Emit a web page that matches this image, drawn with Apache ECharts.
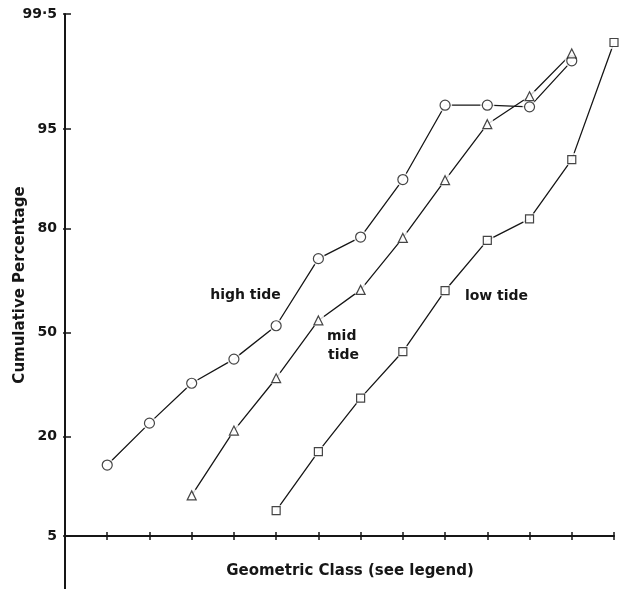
<!DOCTYPE html>
<html>
<head>
<meta charset="utf-8">
<script src="https://cdn.jsdelivr.net/npm/echarts@6/dist/echarts.min.js"></script>
<style>html,body{margin:0;padding:0;background:#fff}#c{width:621px;height:589px}</style>
</head>
<body>
<div id="c"></div>
<script>
// ---- data (cumulative percentages) ----
const highTideClass = [1, 2, 3, 4, 5, 6, 7, 8, 9, 10, 11, 12];
const highTide      = [14.2, 23.2, 34.1, 41.5, 52.2, 72.5, 78.0, 89.2, 96.7, 96.7, 96.6, 98.6];
const midTideClass  = [3, 4, 5, 6, 7, 8, 9, 10, 11, 12];
const midTide       = [9.4, 21.4, 35.6, 53.9, 63.5, 77.8, 89.1, 95.4, 97.2, 98.8];
const lowTideClass  = [5, 6, 7, 8, 9, 10, 11, 12, 13];
const lowTide       = [7.5, 16.8, 29.8, 43.9, 63.3, 77.2, 82.1, 91.9, 99.05];
const yTickPercents = [5, 20, 50, 80, 95, 99.5];
const yTickLabels   = ['5', '20', '50', '80', '95', '99·5'];
const xClassMax = 13;

// inverse normal CDF (probability scale)
function probit(p){
  const a=[-3.969683028665376e+01,2.209460984245205e+02,-2.759285104469687e+02,1.383577518672690e+02,-3.066479806614716e+01,2.506628277459239e+00];
  const b=[-5.447609879822406e+01,1.615858368580409e+02,-1.556989798598866e+02,6.680131188771972e+01,-1.328068155288572e+01];
  const c=[-7.784894002430293e-03,-3.223964580411365e-01,-2.400758277161838e+00,-2.549732539343734e+00,4.374664141464968e+00,2.938163982698783e+00];
  const d=[7.784695709041462e-03,3.224671290700398e-01,2.445134137142996e+00,3.754408661907416e+00];
  const pl=0.02425, ph=1-pl; let q,r;
  if(p<pl){q=Math.sqrt(-2*Math.log(p));return (((((c[0]*q+c[1])*q+c[2])*q+c[3])*q+c[4])*q+c[5])/((((d[0]*q+d[1])*q+d[2])*q+d[3])*q+1);}
  if(p<=ph){q=p-0.5;r=q*q;return (((((a[0]*r+a[1])*r+a[2])*r+a[3])*r+a[4])*r+a[5])*q/(((((b[0]*r+b[1])*r+b[2])*r+b[3])*r+b[4])*r+1);}
  q=Math.sqrt(-2*Math.log(1-p));return -(((((c[0]*q+c[1])*q+c[2])*q+c[3])*q+c[4])*q+c[5])/((((d[0]*q+d[1])*q+d[2])*q+d[3])*q+1);
}
const base = probit(yTickPercents[0] / 100);
const toY = pct => probit(pct / 100) - base;
const yTickVals = yTickPercents.map(toY);
const pairs = (xs, ys) => xs.map((x, i) => [x, toY(ys[i])]);

const highData = pairs(highTideClass, highTide);
const midData  = pairs(midTideClass, midTide);
const lowData  = pairs(lowTideClass, lowTide);

const INK = '#161616';
const FONT = 'DejaVu Sans';

function lineSeries(data){
  return { type: 'line', data, symbol: 'none', z: 2, silent: true,
    lineStyle: { color: INK, width: 1.3 } };
}
function haloSeries(data){
  return { type: 'scatter', data, symbol: 'circle', symbolSize: 14, z: 3, silent: true,
    itemStyle: { color: '#fff', borderWidth: 0 } };
}
function markSeries(data, symbol, size){
  return { type: 'scatter', data, symbol, symbolSize: size, z: 4, silent: true,
    itemStyle: { color: '#fff', borderColor: INK, borderWidth: 1.2 } };
}

const chart = echarts.init(document.getElementById('c'), null, { renderer: 'canvas' });
chart.setOption({
  animation: false,
  backgroundColor: '#fff',
  grid: { left: 65, right: 7, top: 14, bottom: 0, containLabel: false },
  xAxis: [
    { type: 'value', min: 0, max: xClassMax, interval: 1, position: 'bottom',
      axisLine: { onZero: true, lineStyle: { color: INK, width: 2 } },
      axisTick: { show: true, inside: false, length: 4, lineStyle: { color: INK, width: 1.5 } },
      axisLabel: { show: false }, splitLine: { show: false } },
    { type: 'value', min: 0, max: xClassMax, interval: 1, position: 'bottom',
      axisLine: { show: false, onZero: true },
      axisTick: { show: true, inside: true, length: 4, lineStyle: { color: INK, width: 1.5 } },
      axisLabel: { show: false }, splitLine: { show: false } }
  ],
  yAxis: [
    { type: 'value', min: -0.4286, max: yTickVals[yTickVals.length - 1],
      axisLine: { show: true, onZero: true, lineStyle: { color: INK, width: 2 } },
      axisTick: { show: true, inside: true, length: 6, customValues: yTickVals,
        lineStyle: { color: INK, width: 1.5 } },
      axisLabel: { show: true, customValues: yTickVals, margin: 8,
        color: INK, fontFamily: FONT, fontWeight: 'bold', fontSize: 14,
        formatter: v => { const i = yTickVals.findIndex(t => Math.abs(t - v) < 1e-6); return i >= 0 ? yTickLabels[i] : ''; } },
      splitLine: { show: false } },
    { type: 'value', min: -0.4286, max: yTickVals[yTickVals.length - 1], position: 'left', offset: 0,
      axisLine: { show: false },
      axisTick: { show: true, inside: false, length: 2, customValues: yTickVals,
        lineStyle: { color: INK, width: 1.5 } },
      axisLabel: { show: false }, splitLine: { show: false } }
  ],
  series: [
    lineSeries(highData), lineSeries(midData), lineSeries(lowData),
    haloSeries(highData), haloSeries(midData), haloSeries(lowData),
    markSeries(highData, 'circle', 10),
    markSeries(midData, 'triangle', 9),
    markSeries(lowData, 'rect', 8)
  ],
  graphic: [
    { type: 'text', x: 350, y: 571, style: { text: 'Geometric Class (see legend)', font: 'bold 15px "DejaVu Sans"', fill: INK, align: 'center', verticalAlign: 'middle' } },
    { type: 'text', x: 20, y: 285, rotation: Math.PI / 2, style: { text: 'Cumulative Percentage', font: 'bold 15px "DejaVu Sans"', fill: INK, align: 'center', verticalAlign: 'middle' } },
    { type: 'text', x: 245.5, y: 295, style: { text: 'high tide', font: 'bold 14px "DejaVu Sans"', fill: INK, align: 'center', verticalAlign: 'middle' } },
    { type: 'text', x: 327, y: 336, style: { text: 'mid', font: 'bold 14px "DejaVu Sans"', fill: INK, align: 'left', verticalAlign: 'middle' } },
    { type: 'text', x: 328, y: 355, style: { text: 'tide', font: 'bold 14px "DejaVu Sans"', fill: INK, align: 'left', verticalAlign: 'middle' } },
    { type: 'text', x: 496.5, y: 296, style: { text: 'low tide', font: 'bold 14px "DejaVu Sans"', fill: INK, align: 'center', verticalAlign: 'middle' } }
  ]
});
</script>
</body>
</html>
